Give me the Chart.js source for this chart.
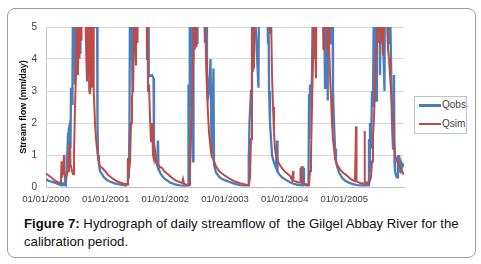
<!DOCTYPE html>
<html lang="en">
<head>
<meta charset="UTF-8">
<title>Hydrograph Gilgel Abbay</title>
<script src="https://cdn.jsdelivr.net/npm/chart.js"></script>
<style>
  body { margin: 0; width: 481px; height: 264px; background: #fff; position: relative; overflow: hidden; font-family: "Liberation Sans", Arial, sans-serif; }
  #frame { position: absolute; left: 7px; top: 8px; width: 467px; height: 248px; border: 1px solid #9c9c9c; border-radius: 8px; }
  #grafico { position: absolute; left: 0; top: 0; }
  #leyenda { position: absolute; left: 414px; top: 96px; width: 51px; height: 36px; border: 1px solid #b4c3d8; background: #fff; }
  .fila { position: absolute; left: 4px; height: 12px; font-size: 10px; color: #404040; line-height: 12px; }
  .fila span.linea { position: absolute; left: 0; width: 22px; }
  .fila span.txt { position: absolute; left: 23px; top: 0; }
  #caption { position: absolute; left: 24px; top: 215px; font-size: 13.2px; line-height: 18px; color: #111; white-space: nowrap; }
</style>
</head>
<body>
<div id="frame"></div>
<canvas id="grafico" width="481" height="210"></canvas>
<div id="leyenda">
  <div class="fila" style="top:2px"><span class="linea" style="top:5px;height:3px;background:#4a7ebb"></span><span class="txt">Qobs</span></div>
  <div class="fila" style="top:21px"><span class="linea" style="top:5px;height:2px;background:#be4b48"></span><span class="txt">Qsim</span></div>
</div>
<div id="caption"><b>Figure 7:</b> Hydrograph of daily streamflow of&nbsp; the Gilgel Abbay River for the<br>calibration period.</div>

<script>
// time in years since 01/01/2000, flow in mm/day (values above 5 run off the top)
const tickPos = [0, 1, 2, 3, 4, 5];
const tickLabels = ['01/01/2000', '01/01/2001', '01/01/2002', '01/01/2003', '01/01/2004', '01/01/2005'];

const qobsT = [
  0, .034, .067, .117, .168, .218, .268, .285, .302, .318,
  .335, .352, .369, .377, .385, .402, .411, .419, .436, .444,
  .453, .469, .478, .486, .494, .520, .536, .545, .570, .578,
  .620, .670, .712, .729, .737, .788, .813, .821, .855, .863,
  .872, .888, .905, .939, .972, 1.022, 1.073, 1.140, 1.207, 1.274,
  1.341, 1.358, 1.374, 1.383, 1.391, 1.399, 1.408, 1.425, 1.433, 1.450,
  1.458, 1.475, 1.483, 1.508, 1.525, 1.609, 1.693, 1.710, 1.718, 1.726,
  1.777, 1.802, 1.810, 1.827, 1.844, 1.860, 1.877, 1.886, 1.911, 1.944,
  1.978, 2.011, 2.078, 2.162, 2.246, 2.330, 2.380, 2.388, 2.397, 2.405,
  2.413, 2.430, 2.439, 2.464, 2.472, 2.497, 2.506, 2.531, 2.539, 2.598,
  2.648, 2.665, 2.682, 2.698, 2.715, 2.732, 2.757, 2.774, 2.782, 2.807,
  2.816, 2.849, 2.899, 2.950, 3.017, 3.084, 3.168, 3.251, 3.335, 3.386,
  3.394, 3.402, 3.410, 3.436, 3.452, 3.469, 3.477, 3.561, 3.570, 3.620,
  3.704, 3.721, 3.729, 3.738, 3.754, 3.771, 3.788, 3.821, 3.855, 3.872,
  3.880, 3.905, 3.955, 4.022, 4.089, 4.156, 4.223, 4.291, 4.299, 4.307,
  4.316, 4.324, 4.374, 4.399, 4.408, 4.416, 4.425, 4.441, 4.458, 4.475,
  4.508, 4.517, 4.592, 4.643, 4.651, 4.660, 4.676, 4.684, 4.701, 4.710,
  4.718, 4.726, 4.760, 4.768, 4.802, 4.810, 4.827, 4.844, 4.860, 4.877,
  4.911, 4.944, 4.978, 5.028, 5.095, 5.162, 5.229, 5.296, 5.363, 5.380,
  5.397, 5.413, 5.422, 5.430, 5.447, 5.464, 5.480, 5.497, 5.531, 5.547,
  5.581, 5.589, 5.598, 5.615, 5.673, 5.682, 5.715, 5.732, 5.740, 5.765,
  5.782, 5.791, 5.799, 5.816, 5.832, 5.841, 5.849, 5.866, 5.883, 5.899,
  5.908, 5.916, 5.933, 5.950, 5.966, 5.983, 6.000];
const qobsV = [
  .25, .2, .18, .15, .12, .08, .05, .1, .06, .3,
  .15, .7, 1.7, .6, 1.8, 2.0, 1.2, 3.1, 2.6, 3.2,
  6.5, 4.6, 6.5, 3.2, 6.5, 7, 4.3, 6.5, 4.2, 7,
  8, 7, 6, 3.0, 6, 6.5, 5, 6.5, 5.6, 2.0,
  1.0, .7, .5, .4, .3, .22, .17, .12, .09, .07,
  .05, .1, .9, .3, .8, 2.0, 6, 4.0, 6, 3.0,
  6.5, 4.5, 6.5, 5.5, 7, 9, 6, 4.5, 6, 3.45,
  3.5, 3.4, 1.2, 1.0, .8, .7, 1.45, .6, .45, .35,
  .28, .23, .14, .08, .05, .04, .05, 3.2, .5, 3.0,
  6, 2.5, 6, .8, 6.5, 4.3, 6.5, 4.5, 7, 9,
  6, 4.5, 5.5, 3.5, 2.8, 3.0, 4.0, 1.2, 1.0, 3.7,
  .7, .45, .32, .25, .2, .15, .1, .06, .05, .05,
  1.05, .6, 2.0, 3.0, 6, 3.6, 6.5, 3.1, 6.5, 8,
  6, 4.5, 5.5, 3.0, 2.0, 1.5, 1.0, .75, .6, 1.45,
  .5, .4, .3, .22, .15, .1, .07, .05, .65, .1,
  .6, .06, .05, .05, 2.9, 1.5, 3.2, 2.5, 3.5, 6.5,
  4.0, 6.5, 8, 6, 4.3, 6, 3.1, 6.5, 3.5, 6,
  2.7, 6, 4.5, 6.5, 6, 3.0, 2.0, 1.2, .8, .65,
  .45, .35, .25, .18, .12, .08, .06, .05, .05, .12,
  .05, 1.5, .5, 2.0, 1.2, 3.0, 2.5, 6.5, 2.7, 7,
  4.5, 7, 3.5, 7, 3.0, 7, 6, 4.5, 6.5, 6,
  4.0, 3.0, 2.0, 1.2, 3.5, .8, .5, .35, .3, .9,
  1.0, .55, .5, .75, .6, .7, .65];

const qsimT = [
  0, .050, .101, .151, .201, .235, .251, .260, .268, .285,
  .302, .310, .335, .369, .385, .402, .411, .436, .453, .469,
  .486, .503, .520, .536, .545, .562, .570, .587, .595, .637,
  .662, .670, .687, .704, .721, .729, .737, .754, .762, .779,
  .788, .796, .804, .821, .838, .855, .872, .905, .939, .989,
  1.039, 1.106, 1.173, 1.240, 1.307, 1.358, 1.374, 1.391, 1.408, 1.425,
  1.441, 1.458, 1.475, 1.492, 1.508, 1.517, 1.534, 1.542, 1.609, 1.685,
  1.693, 1.701, 1.710, 1.726, 1.743, 1.760, 1.777, 1.793, 1.810, 1.827,
  1.844, 1.877, 1.911, 1.944, 1.978, 2.011, 2.045, 2.112, 2.179, 2.246,
  2.279, 2.296, 2.313, 2.346, 2.380, 2.397, 2.413, 2.430, 2.447, 2.464,
  2.472, 2.514, 2.522, 2.598, 2.657, 2.665, 2.682, 2.698, 2.715, 2.732,
  2.749, 2.765, 2.782, 2.816, 2.849, 2.899, 2.950, 3.017, 3.084, 3.168,
  3.251, 3.335, 3.402, 3.419, 3.436, 3.452, 3.469, 3.486, 3.494, 3.587,
  3.704, 3.738, 3.754, 3.771, 3.788, 3.805, 3.821, 3.838, 3.855, 3.888,
  3.922, 3.972, 4.022, 4.056, 4.089, 4.123, 4.140, 4.148, 4.190, 4.223,
  4.257, 4.265, 4.274, 4.282, 4.291, 4.324, 4.374, 4.408, 4.425, 4.441,
  4.458, 4.475, 4.492, 4.525, 4.534, 4.576, 4.626, 4.660, 4.668, 4.710,
  4.726, 4.735, 4.743, 4.760, 4.777, 4.793, 4.810, 4.827, 4.844, 4.877,
  4.927, 4.978, 5.028, 5.078, 5.129, 5.179, 5.196, 5.204, 5.229, 5.279,
  5.330, 5.338, 5.346, 5.380, 5.413, 5.447, 5.464, 5.480, 5.497, 5.514,
  5.531, 5.547, 5.598, 5.606, 5.648, 5.656, 5.698, 5.715, 5.732, 5.749,
  5.765, 5.782, 5.799, 5.816, 5.832, 5.849, 5.866, 5.899, 5.933, 5.966,
  6.000];
const qsimV = [
  .42, .35, .28, .2, .15, .12, .2, .8, .3, .5,
  1.0, .4, .3, .5, .9, 1.4, .7, .5, .4, 1.0,
  2.5, 3.6, 5.5, 3.5, 6, 4.0, 6.5, 4.6, 7, 7,
  5.5, 4.5, 3.3, 5.2, 3.8, 5.5, 2.9, 3.3, 6, 3.1,
  5.5, 4.2, 3.0, 2.0, 1.5, 1.2, .9, .65, .6, .5,
  .38, .28, .2, .14, .1, .08, .9, .5, .8, 2.0,
  2.8, 3.1, 4.6, 6, 3.8, 6.5, 4.5, 7, 8, 6,
  4.0, 5.5, 3.0, 3.2, 2.2, 1.4, 2.0, 1.0, .85, 1.1,
  .8, .7, .62, .6, .5, .45, .4, .28, .2, .15,
  .12, .25, .1, .08, .07, .06, .5, 1.5, 2.5, 4.0,
  6, 4.4, 7, 8.5, 6, 5.5, 4.0, 3.0, 2.3, 1.7,
  1.4, 1.1, .95, .8, .65, .5, .42, .33, .25, .17,
  .12, .08, .06, .3, 1.5, 3.5, 6, 3.7, 6.5, 8.5,
  7, 6, 4.8, 5.5, 3.5, 2.5, 1.7, 1.2, 1.0, .8,
  .68, .55, .45, .4, .35, .22, .5, .2, .17, .15,
  .14, .6, .15, .65, .12, .1, .08, .07, .5, 1.0,
  2.5, 4.0, 6, 3.4, 6.5, 8, 6.5, 4.3, 6, 6.5,
  4.2, 6, 4.5, 3.5, 2.8, 2.0, 1.5, 1.2, .9, .7,
  .55, .45, .38, .3, .22, .18, 1.9, .2, .15, .12,
  .1, 1.75, .15, .12, .12, .3, .8, 1.5, 2.2, 3.0,
  4.2, 6, 4.5, 7, 4.1, 6.5, 6, 5.5, 4.3, 4.0,
  3.5, 3.0, 2.5, 2.0, 1.5, 1.0, .9, .75, .6, .5,
  .38];

function puntos(ts, vs) {
  return ts.map((t, i) => ({ x: t, y: vs[i] }));
}

const ctx = document.getElementById('grafico').getContext('2d');
new Chart(ctx, {
  type: 'line',
  data: {
    datasets: [{
      label: 'Qobs',
      data: puntos(qobsT, qobsV),
      borderColor: '#4a7ebb',
      borderWidth: 2.3,
      order: 1
    }, {
      label: 'Qsim',
      data: puntos(qsimT, qsimV),
      borderColor: '#be4b48',
      borderWidth: 2,
      order: 0
    }]
  },
  options: {
    responsive: false,
    animation: false,
    clip: 0,
    layout: { padding: { top: 27, right: 77, bottom: 0, left: 0 } },
    elements: { point: { radius: 0 }, line: { tension: 0 } },
    plugins: { legend: { display: false }, tooltip: { enabled: false } },
    scales: {
      x: {
        type: 'linear',
        min: 0,
        max: 6,
        grid: { display: false, drawTicks: false },
        border: { display: true, color: '#bfbfbf' },
        afterBuildTicks: s => { s.ticks = tickPos.map(v => ({ value: v })); },
        afterFit: s => { s.height = 23; },
        ticks: {
          autoSkip: false,
          maxRotation: 0,
          padding: 7,
          color: '#404040',
          font: { family: 'Liberation Sans', size: 9.5 },
          callback: v => tickLabels[tickPos.indexOf(v)]
        }
      },
      y: {
        min: 0,
        max: 5,
        grid: { color: '#d9d9d9', drawTicks: false },
        border: { display: true, color: '#c8c8c8' },
        afterFit: s => { s.width = 46; },
        ticks: {
          stepSize: 1,
          padding: 9,
          color: '#404040',
          font: { family: 'Liberation Sans', size: 10 }
        },
        title: {
          display: true,
          text: 'Stream flow (mm/day)',
          color: '#111',
          padding: { top: 18.5, bottom: 0 },
          font: { family: 'Liberation Sans', size: 9, weight: 'bold' }
        }
      }
    }
  }
});
</script>
</body>
</html>
